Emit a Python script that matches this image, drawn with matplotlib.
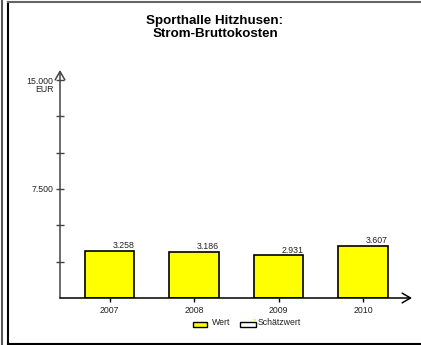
import matplotlib
matplotlib.use('Agg')
import matplotlib.pyplot as plt
from matplotlib.patches import Rectangle, Polygon
from matplotlib.lines import Line2D

plt.rcParams['font.family'] = ['Liberation Sans', 'DejaVu Sans']

# Data
years = ['2007', '2008', '2009', '2010']
values = [3258, 3186, 2931, 3607]
labels = ['3.258', '3.186', '2.931', '3.607']
yticks = [2500, 5000, 7500, 10000, 12500, 15000]
ytick_labels = ['', '', '7.500', '', '', '15.000']
title = 'Sporthalle Hitzhusen:\nStrom-Bruttokosten'

W, H = 421, 345
fig = plt.figure(figsize=(W / 100, H / 100), dpi=100)

def fx(px):
    return px / W

def fy(py):
    return 1 - py / H

# outer frame
fig.add_artist(Line2D([fx(1.5), fx(1.5)], [fy(0), fy(345)], color='#555555', lw=1.5))
fig.add_artist(Line2D([fx(7.5), fx(7.5)], [fy(2), fy(343.5)], color='black', lw=1.5))
fig.add_artist(Line2D([fx(7.5), fx(421)], [fy(2), fy(2)], color='#666666', lw=1.5))
fig.add_artist(Line2D([fx(7.5), fx(421)], [fy(343.5), fy(343.5)], color='black', lw=1.5))

# axes area in pixels
x0, x1 = 60, 412
y0, y1 = 298, 70
ax = fig.add_axes([fx(x0), fy(y0), fx(x1 - x0), (y0 - y1) / H])
ax.patch.set_visible(False)
for s in ax.spines.values():
    s.set_visible(False)

ymax = 15000 * (y0 - y1) / (y0 - 80)
xmin, xmax = -0.586, 3.58
ax.set_xlim(xmin, xmax)
ax.set_ylim(0, ymax)

xs = list(range(len(years)))
bw = 0.59
ax.bar(xs, values, width=bw, color='#ffff00', edgecolor='black', linewidth=1.2, zorder=3)
for i, v in enumerate(values):
    ax.text(i + bw / 2, v + 60, labels[i], ha='right', va='bottom', fontsize=6.3, color='#222222')

# axes with arrows
arrow = '->,head_length=0.6,head_width=0.35'
ax.annotate('', xy=(xmin, ymax), xytext=(xmin, 0),
            arrowprops=dict(arrowstyle=arrow, color='#444444', lw=1.1, mutation_scale=10,
                            shrinkA=0, shrinkB=0),
            annotation_clip=False)
ax.annotate('', xy=(xmax, 0), xytext=(xmin, 0),
            arrowprops=dict(arrowstyle=arrow, color='black', lw=1.1, mutation_scale=10,
                            shrinkA=0, shrinkB=0),
            annotation_clip=False)

ax.set_yticks(yticks)
ax.set_yticklabels(ytick_labels, fontsize=6.3, color='#222222')
ax.tick_params(axis='y', direction='inout', length=6, width=1, color='#444444', pad=2)
ax.set_xticks(xs)
ax.set_xticklabels(years, fontsize=6.3, color='#222222')
ax.tick_params(axis='x', direction='out', length=3, width=1, color='black', pad=3)
ax.text(xmin - 0.07, 15000 - 330, 'EUR', ha='right', va='top', fontsize=6.3, color='#222222')

fig.text(fx(215), fy(27.5), title, ha='center', va='center', fontsize=9.6, fontweight='bold',
         linespacing=1.1)

# legend
fig.add_artist(Rectangle((fx(193), fy(327)), fx(14), 5 / H, facecolor='#ffff00',
                         edgecolor='black', lw=1))
fig.text(fx(212), fy(322.5), 'Wert', ha='left', va='center', fontsize=6.3, color='#222222')
fig.add_artist(Rectangle((fx(240), fy(327)), fx(16), 5 / H, facecolor='white',
                         edgecolor='black', lw=1))
fig.add_artist(Polygon([(fx(252), fy(318.5)), (fx(255.5), fy(318.5)), (fx(255.5), fy(322))],
                       closed=True, facecolor='#ffff00', edgecolor='none'))
fig.text(fx(257.5), fy(322.5), 'Schätzwert', ha='left', va='center', fontsize=6.3,
         color='#222222')

fig.savefig('out.png', dpi=100)
